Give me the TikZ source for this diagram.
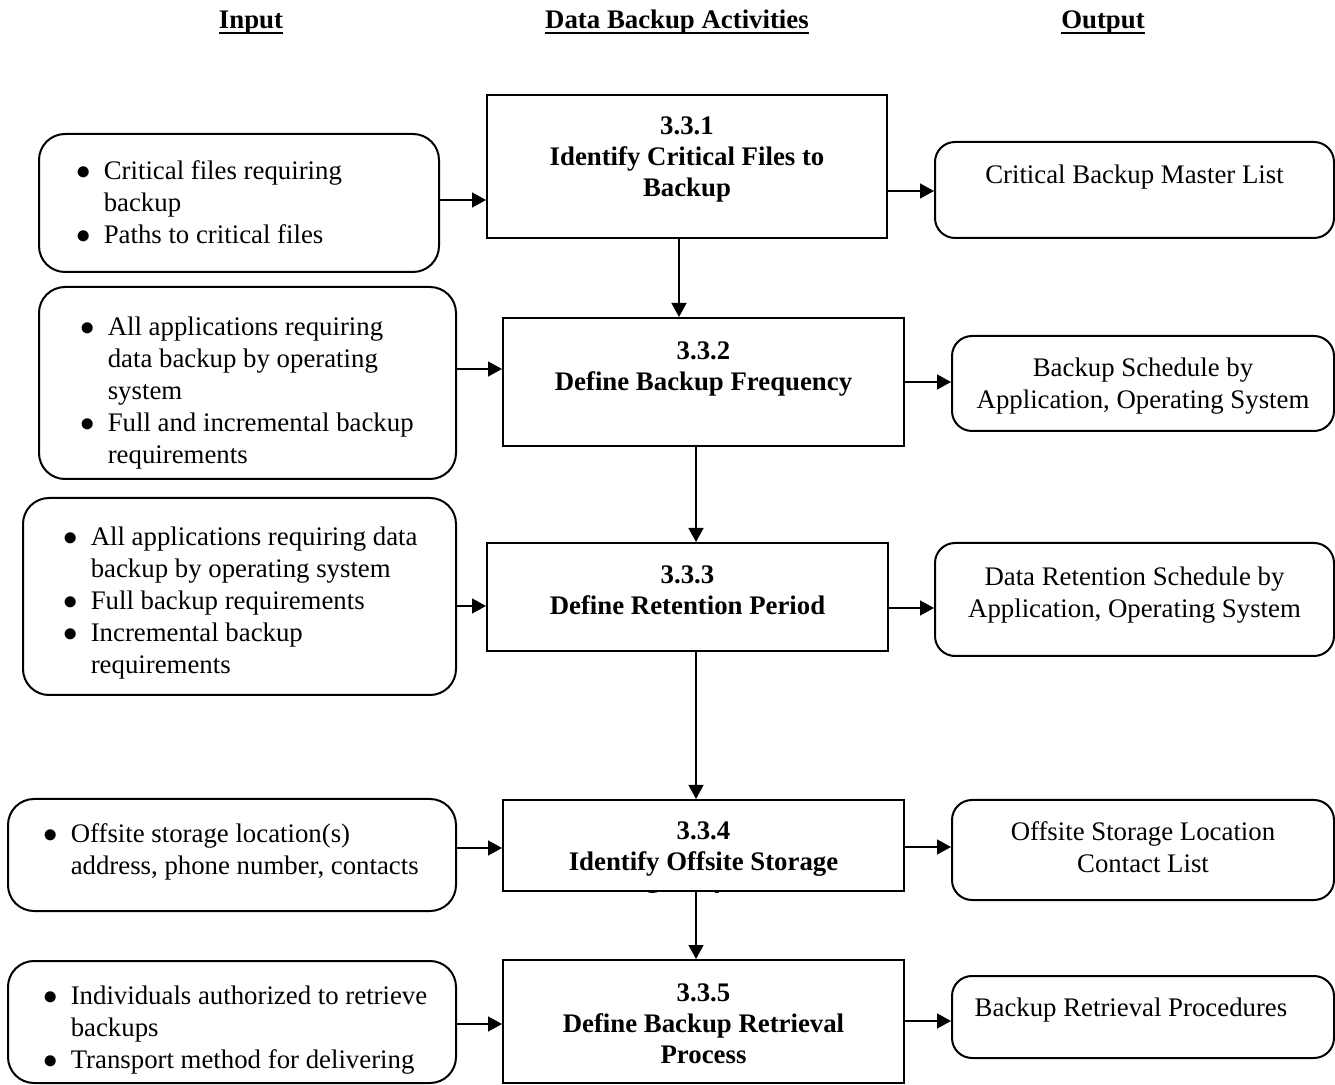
\documentclass[tikz,border=0pt]{standalone}
\usepackage{fontspec}
\setmainfont{Liberation Serif}
\usetikzlibrary{arrows.meta, positioning}

\newcommand{\headline}[1]{{\setbox0\hbox{#1}\rlap{\rule[-2.8pt]{\wd0}{0.9pt}}\box0}}
\newcommand{\blt}{$\bullet$}

\begin{document}
\begin{tikzpicture}[
        x=0.5pt, y=-0.5pt,
        every node/.style={font=\fontsize{13.4}{16}\selectfont},
        actbox/.style={rectangle, draw=black, line width=1pt, inner sep=0pt},
        inbox/.style={rectangle, rounded corners=13pt, draw=black, line width=1pt, inner sep=0pt},
        outbox/.style={rectangle, rounded corners=10pt, draw=black, line width=1pt, inner sep=0pt},
        bullets/.style={inner sep=0pt},
        acttext/.style={inner sep=0pt, align=center,
            font=\fontsize{13.4}{15.5}\selectfont\bfseries, execute at begin node=\strut},
        outtext/.style={inner sep=0pt, align=center, execute at begin node=\strut},
        heading/.style={anchor=base, font=\fontsize{13.4}{16}\selectfont\bfseries},
        arr/.style={-{Triangle[length=7pt, width=7.5pt]}, line width=0.8pt}
    ]
    \useasboundingbox (0,0) rectangle (1335,1085);

% --- Column headings ---
    \node[heading] (hin)  at (251,28.5)  {\headline{Input}};
    \node[heading] (hact) at (677,28.5)  {\headline{Data Backup Activities}};
    \node[heading] (hout) at (1103,28.5) {\headline{Output}};

% --- Activities ---
    \node[actbox, minimum width=200pt,   minimum height=71.5pt] (a1) at (687,166.5) {};
    \node[actbox, minimum width=200.5pt, minimum height=64pt]   (a2) at (703.5,382) {};
    \node[actbox, minimum width=200.5pt, minimum height=54pt]   (a3) at (687.5,597) {};
    \node[actbox, minimum width=200.5pt, minimum height=45.5pt] (a4) at (703.5,845.5) {};
    \node[actbox, minimum width=200.5pt, minimum height=61.5pt] (a5) at (703.5,1021.5) {};

    \node[acttext, below=11pt of a1.north]   (a1txt) {3.3.1\\Identify Critical Files to\\Backup};
    \node[acttext, below=12pt of a2.north]   (a2txt) {3.3.2\\Define Backup Frequency};
    \node[acttext, below=11.5pt of a3.north] (a3txt) {3.3.3\\Define Retention Period};
    \begin{scope}
        \clip (a4.south west) rectangle (a4.north east);
        \node[acttext, below=11pt of a4.north] (a4txt) {3.3.4\\Identify Offsite Storage\\[4pt]Locations};
    \end{scope}
    \node[acttext, below=12pt of a5.north]   (a5txt) {3.3.5\\Define Backup Retrieval\\Process};

% --- Inputs ---
    \node[inbox, minimum width=200pt,   minimum height=69pt]   (i1) at (239,203) {};
    \node[inbox, minimum width=208.5pt, minimum height=96pt]   (i2) at (247.5,383) {};
    \node[inbox, minimum width=216.5pt, minimum height=98.5pt] (i3) at (239.5,596.5) {};
    \node[inbox, minimum width=224pt,   minimum height=56pt]   (i4) at (232,855) {};
    \node[inbox, minimum width=224pt,   minimum height=61pt]   (i5) at (232,1022) {};

    \node[bullets, below right=11.75pt and 19pt of i1.north west] (i1txt)
        {\begin{tabular}{@{}l@{\hspace{6.5pt}}l@{}}
        \blt & Critical files requiring\\ & backup\\
        \blt & Paths to critical files
        \end{tabular}};
    \node[bullets, below right=13.25pt and 21pt of i2.north west] (i2txt)
        {\begin{tabular}{@{}l@{\hspace{6.5pt}}l@{}}
        \blt & All applications requiring\\ & data backup by operating\\ & system\\
        \blt & Full and incremental backup\\ & requirements
        \end{tabular}};
    \node[bullets, below right=13pt and 20.5pt of i3.north west] (i3txt)
        {\begin{tabular}{@{}l@{\hspace{6.5pt}}l@{}}
        \blt & All applications requiring data\\ & backup by operating system\\
        \blt & Full backup requirements\\
        \blt & Incremental backup\\ & requirements
        \end{tabular}};
    \node[bullets, below right=11pt and 18pt of i4.north west] (i4txt)
        {\begin{tabular}{@{}l@{\hspace{6.5pt}}l@{}}
        \blt & Offsite storage location(s)\\ & address, phone number, contacts
        \end{tabular}};
    \node[bullets, below right=11pt and 18pt of i5.north west] (i5txt)
        {\begin{tabular}{@{}l@{\hspace{6.5pt}}l@{}}
        \blt & Individuals authorized to retrieve\\ & backups\\
        \blt & Transport method for delivering
        \end{tabular}};

% --- Outputs ---
    \node[outbox, minimum width=199.5pt, minimum height=48pt]   (o1) at (1134.5,190) {};
    \node[outbox, minimum width=191pt,   minimum height=47.5pt] (o2) at (1143,383.5) {};
    \node[outbox, minimum width=199.5pt, minimum height=56.5pt] (o3) at (1134.5,599.5) {};
    \node[outbox, minimum width=191pt,   minimum height=50pt]   (o4) at (1143,850) {};
    \node[outbox, minimum width=191pt,   minimum height=41pt]   (o5) at (1143,1017) {};

    \node[outtext, below=10pt of o1.north]   (o1txt) {Critical Backup Master List};
    \node[outtext, below=11.5pt of o2.north] (o2txt) {Backup Schedule by\\Application, Operating System};
    \node[outtext, below=12.5pt of o3.north] (o3txt) {Data Retention Schedule by\\Application, Operating System};
    \node[outtext, below=11pt of o4.north]   (o4txt) {Offsite Storage Location\\Contact List};
    \node[outtext, below=9.5pt of o5.north, xshift=-6pt] (o5txt) {Backup Retrieval Procedures};

% --- Connectors ---
    \foreach \n/\yin/\yout in {1/200/191, 2/369/382, 3/606/608, 4/848/847, 5/1024/1021} {
        \draw[arr] (i\n.east |- 0,\yin) -- (a\n.west |- 0,\yin);
        \draw[arr] (a\n.east |- 0,\yout) -- (o\n.west |- 0,\yout);
    }
    \foreach \a/\b/\xx in {1/2/679, 2/3/696, 3/4/696, 4/5/696}
        \draw[arr] (a\a.south -| \xx,0) -- (a\b.north -| \xx,0);
\end{tikzpicture}
\end{document}
